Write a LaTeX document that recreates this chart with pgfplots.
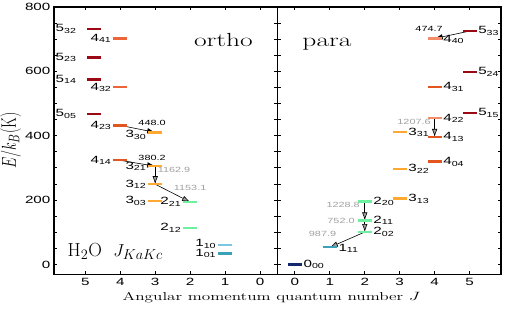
\documentclass[border=0pt]{standalone}
\usepackage{fontspec}
\usepackage{graphicx}
\usepackage{pgfplots}
\pgfplotsset{compat=1.18}
\usetikzlibrary{arrows.meta}
\newfontfamily\hv{Liberation Sans}
\newcommand{\wide}[1]{\scalebox{1.45}[1]{#1}}
\newcommand{\lev}[2]{\wide{\hv\fontsize{10.5}{11}\selectfont #1\textsubscript{#2}}}
\newcommand{\tl}[1]{\wide{\hv\fontsize{7.5}{8}\selectfont #1}}
\definecolor{cfive}{RGB}{155,10,20}
\definecolor{cfourA}{RGB}{226,85,30}
\definecolor{cfourB}{RGB}{236,100,55}
\definecolor{cfourC}{RGB}{242,140,105}
\definecolor{cthree}{RGB}{255,168,50}
\definecolor{ctwo}{RGB}{110,240,160}
\definecolor{conea}{RGB}{120,200,225}
\definecolor{coneb}{RGB}{60,160,185}
\definecolor{czero}{RGB}{20,40,110}
\definecolor{garr}{RGB}{160,160,160}
\pgfplotsset{
  lvl/.style={only marks, mark=-, mark size=7pt, mark options={line width=2.3pt, color=#1}},
  tr/.style={black, line width=0.6pt, -{Latex[length=8pt,width=5.5pt]}},
  trg/.style={black, line width=0.6pt, -{Latex[length=8pt,width=5.5pt,fill=garr]}},
  panel/.style={
    scale only axis, width=224pt, height=268pt,
    xmin=-0.5, xmax=5.9, ymin=-31, ymax=800,
    xtick={0,1,2,3,4,5}, ytick={0,200,400,600,800}, minor y tick num=3,
    major tick length=3.5pt, minor tick length=3.5pt,
    every tick/.style={black, line width=0.9pt},
    axis line style={line width=1.3pt},
    every tick label/.append style={font=\hv\fontsize{10.5}{11}\selectfont},
    xticklabel={\wide{\pgfmathprintnumber[assume math mode=true]{\tick}}},
    clip=false,
  },
}
\begin{document}
\begin{tikzpicture}
\begin{axis}[panel, name=l, x dir=reverse,
  yticklabel={\wide{\pgfmathprintnumber[assume math mode=true]{\tick}}},
  ylabel={\scalebox{1}[1.4]{\fontsize{15}{16}\selectfont $E/k_B$(K)}},
  ylabel style={yshift=-3pt}]
% ortho levels
\addplot[lvl=cfive] coordinates {(4.75,732.1) (4.75,642.7) (4.75,574.7) (4.75,468.1)};
\addplot[lvl=cfourB] coordinates {(4,702.3) (4,550.4)};
\addplot[lvl=cfourA] coordinates {(4,432.2) (4,323.5)};
\addplot[lvl=cthree] coordinates {(3,410.4) (3,305.3) (3,249.4) (3,196.8)};
\addplot[lvl=ctwo] coordinates {(2,194.1) (2,114.4)};
\addplot[lvl=conea] coordinates {(1,61.0)};
\addplot[lvl=coneb] coordinates {(1,34.2)};
% transitions
\addplot[tr] coordinates {(4,432.2) (3,410.4)};
\addplot[tr] coordinates {(4,323.5) (3,305.3)};
\addplot[trg] coordinates {(3,305.3) (3,249.4)};
\addplot[trg] coordinates {(3,249.4) (2,194.1)};
\node at (axis cs:3.09,439) {\tl{448.0}};
\node at (axis cs:3.09,330) {\tl{380.2}};
\node[text=garr] at (axis cs:2.46,295) {\tl{1162.9}};
\node[text=garr] at (axis cs:2.0,238) {\tl{1153.1}};
% level labels
\begin{scope}[every node/.style={anchor=east, inner sep=1.5pt}]
\node at (axis cs:5.2,732.1) {\lev{5}{32}};
\node at (axis cs:5.2,642.7) {\lev{5}{23}};
\node at (axis cs:5.2,574.7) {\lev{5}{14}};
\node at (axis cs:5.2,468.1) {\lev{5}{05}};
\node at (axis cs:4.2,702.3) {\lev{4}{41}};
\node at (axis cs:4.2,550.4) {\lev{4}{32}};
\node at (axis cs:4.2,432.2) {\lev{4}{23}};
\node at (axis cs:4.2,323.5) {\lev{4}{14}};
\node at (axis cs:3.2,402) {\lev{3}{30}};
\node at (axis cs:3.2,305.3) {\lev{3}{21}};
\node at (axis cs:3.2,249.4) {\lev{3}{12}};
\node at (axis cs:3.2,196.8) {\lev{3}{03}};
\node at (axis cs:2.2,194.1) {\lev{2}{21}};
\node at (axis cs:2.2,114.4) {\lev{2}{12}};
\node at (axis cs:1.2,63.0) {\lev{1}{10}};
\node at (axis cs:1.2,34.2) {\lev{1}{01}};
\end{scope}
\node[anchor=base east, inner sep=0pt] at (axis cs:0.2,677) {\wide{\fontsize{19}{20}\selectfont ortho}};
\node[anchor=base west, inner sep=0pt] at (axis cs:5.51,26) {\fontsize{19}{20}\selectfont H$_2$O\ \ $J_{KaKc}$};
\end{axis}
\begin{axis}[panel, name=r, at={(l.south east)}, anchor=south west,
  yticklabels={}]
% para levels
\addplot[lvl=czero] coordinates {(0,0)};
\addplot[lvl=coneb] coordinates {(1,53.4)};
\addplot[lvl=ctwo] coordinates {(2,100.8) (2,136.9) (2,195.9)};
\addplot[lvl=cthree] coordinates {(3,204.7) (3,296.8) (3,410.7)};
\addplot[lvl=cfourA] coordinates {(4,319.5) (4,396.4) (4,552.3)};
\addplot[lvl=cfourC] coordinates {(4,454.3) (4,702.2)};
\addplot[lvl=cfive] coordinates {(5,469.9) (5,598.8) (5,725.1)};
% transitions
\addplot[tr] coordinates {(5,725.1) (4,702.2)};
\addplot[trg] coordinates {(4,454.3) (4,396.4)};
\addplot[trg] coordinates {(2,195.9) (2,136.9)};
\addplot[trg] coordinates {(2,136.9) (2,100.8)};
\addplot[trg] coordinates {(2,100.8) (1,53.4)};
\node at (axis cs:3.84,731) {\tl{474.7}};
\node[text=garr] at (axis cs:3.41,443) {\tl{1207.6}};
\node[text=garr] at (axis cs:1.38,184) {\tl{1228.8}};
\node[text=garr] at (axis cs:1.32,134) {\tl{752.0}};
\node[text=garr] at (axis cs:0.79,96) {\tl{987.9}};
\begin{scope}[every node/.style={anchor=west, inner sep=1.5pt}]
\node at (axis cs:0.2,0) {\lev{0}{00}};
\node at (axis cs:1.2,50) {\lev{1}{11}};
\node at (axis cs:2.2,100.8) {\lev{2}{02}};
\node at (axis cs:2.2,136.9) {\lev{2}{11}};
\node at (axis cs:2.2,195.9) {\lev{2}{20}};
\node at (axis cs:3.2,204.7) {\lev{3}{13}};
\node at (axis cs:3.2,296.8) {\lev{3}{22}};
\node at (axis cs:3.2,410.7) {\lev{3}{31}};
\node at (axis cs:4.2,319.5) {\lev{4}{04}};
\node at (axis cs:4.2,396.4) {\lev{4}{13}};
\node at (axis cs:4.2,454.3) {\lev{4}{22}};
\node at (axis cs:4.2,552.3) {\lev{4}{31}};
\node at (axis cs:4.2,699) {\lev{4}{40}};
\node at (axis cs:5.2,469.9) {\lev{5}{15}};
\node at (axis cs:5.2,598.8) {\lev{5}{24}};
\node at (axis cs:5.2,725.1) {\lev{5}{33}};
\end{scope}
\node[anchor=base west, inner sep=0pt] at (axis cs:0.21,677) {\wide{\fontsize{19}{20}\selectfont para}};
\end{axis}
\node[anchor=base, inner sep=0pt, xshift=-6pt, yshift=-26pt] at (l.south east) {\scalebox{1.5}[1]{\fontsize{11.5}{13}\selectfont Angular momentum quantum number $J$}};
\pgfresetboundingbox
\path[use as bounding box] ([xshift=-54pt,yshift=-35pt]l.south west) rectangle ([xshift=5pt,yshift=7pt]r.north east);
\end{tikzpicture}
\end{document}
